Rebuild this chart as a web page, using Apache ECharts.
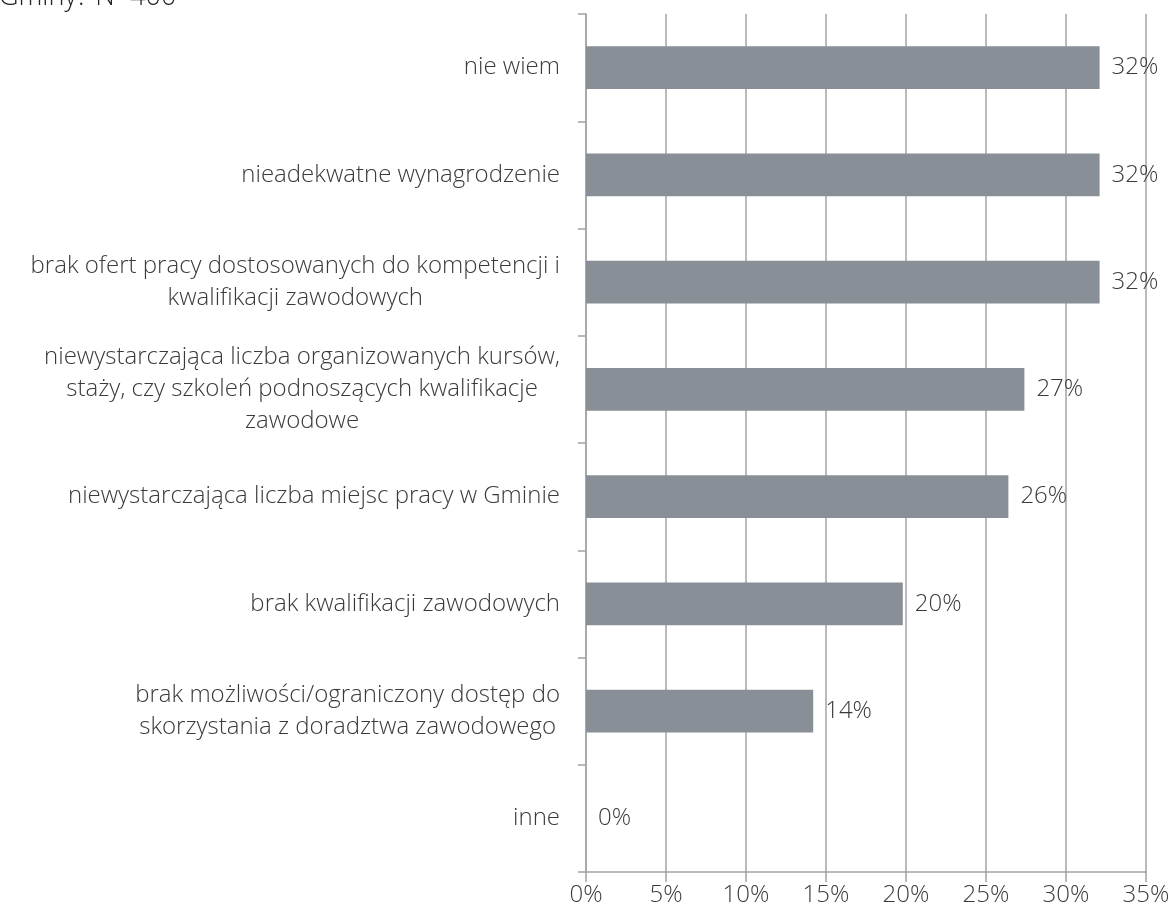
<!DOCTYPE html>
<html>
<head>
<meta charset="utf-8">
<script src="https://cdn.jsdelivr.net/npm/echarts@6/dist/echarts.min.js"></script>
<style>html,body{margin:0;padding:0;background:#fff;}#c{width:1173px;height:920px;}</style>
</head>
<body>
<div id="c"></div>
<script>
var categories = [
  "nie wiem",
  "nieadekwatne wynagrodzenie",
  "brak ofert pracy dostosowanych do kompetencji i\nkwalifikacji zawodowych",
  "niewystarczająca liczba organizowanych kursów,\nstaży, czy szkoleń podnoszących kwalifikacje\nzawodowe",
  "niewystarczająca liczba miejsc pracy w Gminie",
  "brak kwalifikacji zawodowych",
  "brak możliwości/ograniczony dostęp do\nskorzystania z doradztwa zawodowego",
  "inne"
];
var values = [32.1, 32.1, 32.1, 27.4, 26.4, 19.8, 14.2, 0];
var valueLabels = ["32%", "32%", "32%", "27%", "26%", "20%", "14%", "0%"];
var xTicks = [0, 5, 10, 15, 20, 25, 30, 35];
var titleText = "Gminy? N=400";

var FONT = 'Open Sans';
var FW = 300;
var FS = 24;
var TXT = '#3a3a3a';
var GRID = '#a3a3a3';

var chart = echarts.init(document.getElementById('c'), null, {renderer: 'canvas'});
chart.setOption({
  backgroundColor: '#ffffff',
  animation: false,
  graphic: [{
    type: 'text',
    left: -1,
    top: -16,
    style: {text: titleText, fontFamily: FONT, fontWeight: FW, fontSize: 27, fill: '#222'}
  }],
  grid: {left: 586, right: 27, top: 14, bottom: 48, containLabel: false},
  xAxis: {
    type: 'value',
    min: xTicks[0],
    max: xTicks[xTicks.length - 1],
    interval: 5,
    axisLine: {show: true, lineStyle: {color: GRID, width: 1.5}},
    axisTick: {show: true, length: 10, lineStyle: {color: GRID, width: 1.5}},
    splitLine: {show: true, lineStyle: {color: GRID, width: 1.5}},
    axisLabel: {
      formatter: '{value}%',
      margin: 11,
      color: TXT,
      fontFamily: FONT,
      fontWeight: FW,
      fontSize: FS
    }
  },
  yAxis: {
    type: 'category',
    inverse: true,
    data: categories,
    axisLine: {show: true, lineStyle: {color: GRID, width: 1.5}},
    axisTick: {show: true, length: 8, lineStyle: {color: GRID, width: 1.5}},
    axisLabel: {
      margin: 26,
      color: TXT,
      fontFamily: FONT,
      fontWeight: FW,
      fontSize: FS,
      lineHeight: 32,
      formatter: function (v) {
        return v.split('\n').map(function (l) { return '{c|' + l + '}'; }).join('\n');
      },
      rich: {
        c: {align: 'center', fontFamily: FONT, fontWeight: FW, fontSize: FS, lineHeight: 32}
      }
    }
  },
  series: [{
    type: 'bar',
    data: values,
    barCategoryGap: '60%',
    itemStyle: {color: '#898f96'},
    label: {
      show: true,
      position: 'right',
      distance: 12,
      color: TXT,
      fontFamily: FONT,
      fontWeight: FW,
      fontSize: FS,
      formatter: function (p) { return valueLabels[p.dataIndex]; }
    }
  }]
});
</script>
</body>
</html>
